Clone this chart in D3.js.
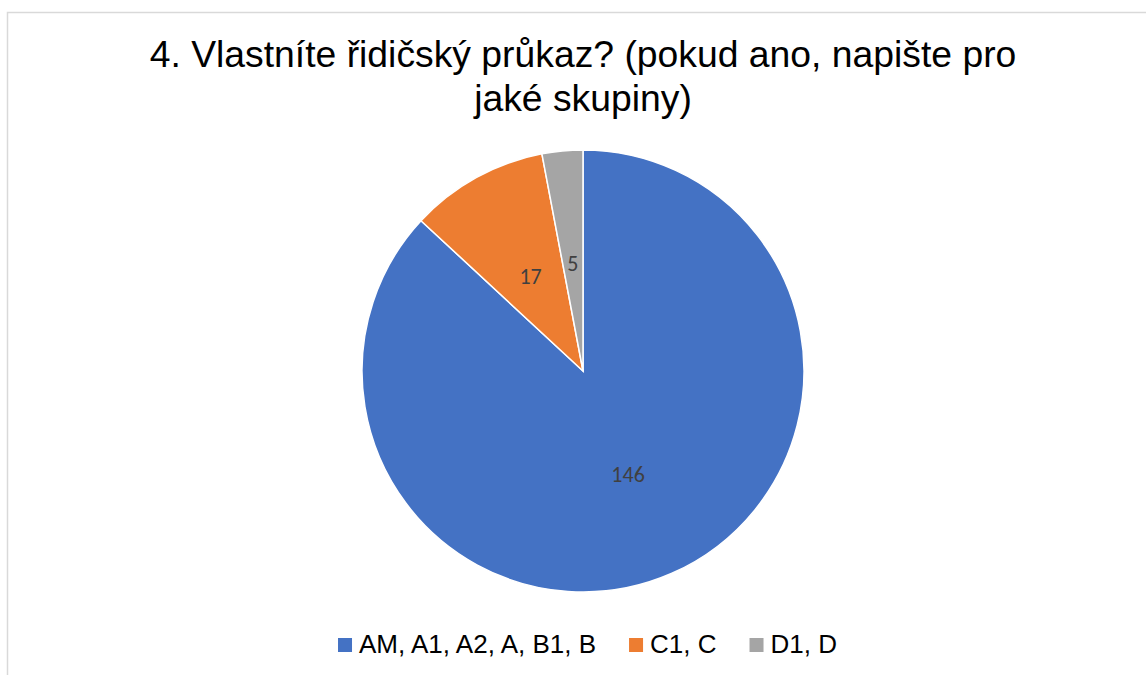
<!DOCTYPE html>
<html><head><meta charset="utf-8">
<script src="https://cdn.jsdelivr.net/npm/d3@7"></script>
<style>body{margin:0;background:#fff}svg{display:block}</style>
</head><body>
<svg id="c" width="1146" height="675"></svg>
<script>
const categories = ["AM, A1, A2, A, B1, B", "C1, C", "D1, D"];
const values = [146, 17, 5];
const colors = ["#4472C4", "#ED7D31", "#A5A5A5"];
const titleLines = ["4. Vlastníte řidičský průkaz? (pokud ano, napište pro", "jaké skupiny)"];

const svg = d3.select("#c");
svg.append("rect").attr("x", 7.5).attr("y", 12.5).attr("width", 1160).attr("height", 700)
  .attr("fill", "#fff").attr("stroke", "#d9d9d9").attr("stroke-width", 1.5);

svg.selectAll("text.title").data(titleLines).join("text")
  .attr("class", "title")
  .attr("x", 583).attr("y", (d, i) => 67 + i * 44)
  .attr("text-anchor", "middle")
  .attr("font-family", "Liberation Sans, Arial, sans-serif")
  .attr("font-size", 37.3).attr("fill", "#000").text(d => d);

const cx = 583, cy = 371, r = 221;
const pie = d3.pie().sort(null).value(d => d)(values);
const arc = d3.arc().innerRadius(0).outerRadius(r);
const g = svg.append("g").attr("transform", `translate(${cx},${cy})`);
g.selectAll("path").data(pie).join("path")
  .attr("d", arc).attr("fill", (d, i) => colors[i])
  .attr("stroke", "#fff").attr("stroke-width", 1.5);

g.selectAll("text.lbl").data(pie).join("text")
  .attr("class", "lbl")
  .attr("transform", (d, i) => {
    const f = i === 0 ? 0.51 : 0.49;
    const p = d3.arc().innerRadius(r * f).outerRadius(r * f).centroid(d);
    return `translate(${p[0]},${p[1]})`;
  })
  .attr("text-anchor", "middle").attr("dy", "0.35em")
  .attr("font-family", "Carlito, Calibri, Lato, sans-serif")
  .attr("font-size", 22).attr("fill", "#404040")
  .text(d => d.data);

// legend
const lg = svg.append("g");
const fs = 26;
const items = lg.selectAll("g").data(categories).join("g");
items.append("rect").attr("width", 14).attr("height", 14).attr("y", -15)
  .attr("fill", (d, i) => colors[i]);
items.append("text").attr("x", 21).attr("y", 0)
  .attr("font-family", "Liberation Sans, Arial, sans-serif")
  .attr("font-size", fs).attr("fill", "#000").text(d => d);
const widths = [];
items.each(function() { widths.push(d3.select(this).select("text").node().getComputedTextLength() + 21); });
const gap = 33;
const total = d3.sum(widths) + gap * (widths.length - 1);
let x0 = 587.5 - total / 2;
items.attr("transform", (d, i) => { const t = `translate(${x0},653)`; x0 += widths[i] + gap; return t; });
</script>
</body></html>
